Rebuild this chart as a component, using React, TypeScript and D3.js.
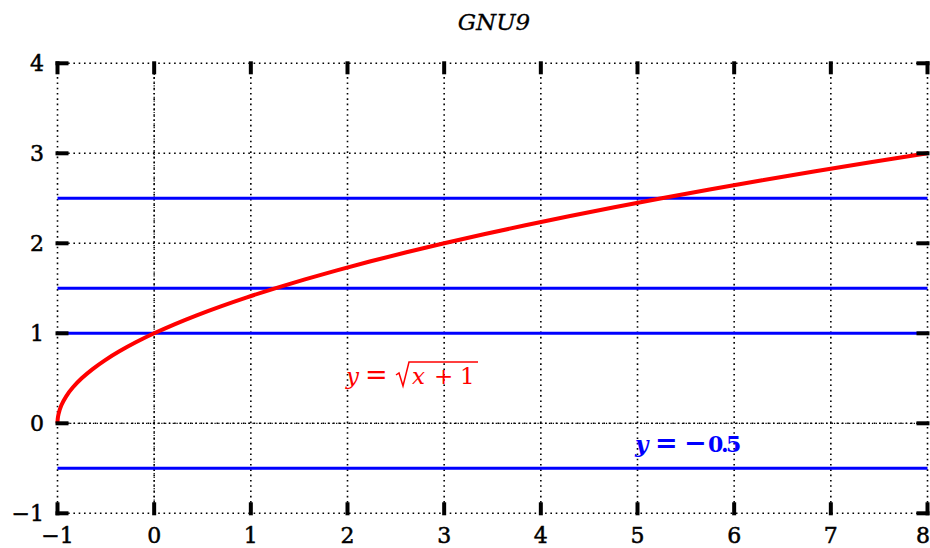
import React from "react";
import * as d3 from "d3";

// Curve samples of y = sqrt(x + 1)
const curveX = [-1, -0.9975, -0.99, -0.96, -0.91, -0.84, -0.75, -0.64, -0.51, -0.36, -0.19, 0, 0.21, 0.44, 0.69, 0.96, 1.25, 1.56, 1.89, 2.24, 2.61, 3, 3.41, 3.84, 4.29, 4.76, 5.25, 5.76, 6.29, 6.84, 7.41, 8];
const curveY = [0, 0.05, 0.1, 0.2, 0.3, 0.4, 0.5, 0.6, 0.7, 0.8, 0.9, 1, 1.1, 1.2, 1.3, 1.4, 1.5, 1.6, 1.7, 1.8, 1.9, 2, 2.1, 2.2, 2.3, 2.4, 2.5, 2.6, 2.7, 2.8, 2.9, 3];

// Horizontal reference levels
const levels = [2.5, 1.5, 1, -0.5];

const xTicks = [-1, 0, 1, 2, 3, 4, 5, 6, 7, 8];
const yTicks = [-1, 0, 1, 2, 3, 4];

const title = "GNU9";

const W = 930;
const H = 548;
const left = 57.5;
const right = 927.5;
const top = 63.3;
const bottom = 513.3;

const FONT = "'DejaVu Serif', 'Liberation Serif', serif";

const fmt = (t: number) => (t < 0 ? "\u2212" + Math.abs(t) : String(t));

export default function App() {
  const x = d3.scaleLinear().domain([-1, 8]).range([left, right]);
  const y = d3.scaleLinear().domain([-1, 4]).range([bottom, top]);

  const pts: [number, number][] = curveX.map((v, i) => [v, curveY[i]]);
  const line = d3
    .line<[number, number]>()
    .x((d) => x(d[0]))
    .y((d) => y(d[1]))
    .curve(d3.curveMonotoneY);

  const tickLen = 11;
  const tickW = 4;

  // label anchors
  const rx = 346;
  const ry = 384;
  const bx = 635;
  const by = 452;

  return (
    <svg
      width={W}
      height={H}
      style={{ position: "absolute", left: 0, top: 0, background: "#fff" }}
      fontFamily={FONT}
    >
      <rect width={W} height={H} fill="#fff" />
      <text x={494} y={30} textAnchor="middle" fontStyle="italic" fontSize={23} fill="#000" stroke="#000" strokeWidth={0.3}>
        {title}
      </text>

      {/* dotted grid */}
      <g stroke="#000" strokeWidth={1.6} strokeDasharray="1.6,3.7" fill="none">
        {xTicks.map((t) => (
          <line key={"gx" + t} x1={x(t)} x2={x(t)} y1={y(-1)} y2={y(4)} />
        ))}
        {yTicks.map((t) => (
          <line key={"gy" + t} x1={x(-1)} x2={x(8)} y1={y(t)} y2={y(t)} />
        ))}
      </g>
      {/* zero axes */}
      <g stroke="#000" strokeWidth={1.2} strokeDasharray="1.2,2.6" strokeDashoffset={2.6} fill="none">
        <line x1={x(0)} x2={x(0)} y1={y(-1)} y2={y(4)} />
        <line x1={x(-1)} x2={x(8)} y1={y(0)} y2={y(0)} />
      </g>

      {/* horizontal levels */}
      <g stroke="#0000ff" strokeWidth={3}>
        {levels.map((v) => (
          <line key={"l" + v} x1={x(-1)} x2={x(8)} y1={y(v)} y2={y(v)} />
        ))}
      </g>

      {/* curve */}
      <path d={line(pts) ?? ""} fill="none" stroke="#ff0000" strokeWidth={4} strokeLinejoin="round" />

      {/* tick marks on all four sides */}
      <g stroke="#000" strokeWidth={tickW}>
        {xTicks.map((t) => (
          <g key={"tx" + t}>
            <line x1={x(t)} x2={x(t)} y1={y(-1) + tickW / 2} y2={y(-1) - tickLen} />
            <line x1={x(t)} x2={x(t)} y1={y(4) - tickW / 2} y2={y(4) + tickLen} />
          </g>
        ))}
        {yTicks.map((t) => (
          <g key={"ty" + t}>
            <line x1={x(-1) - tickW / 2} x2={x(-1) + tickLen} y1={y(t)} y2={y(t)} />
            <line x1={x(8) + tickW / 2} x2={x(8) - tickLen} y1={y(t)} y2={y(t)} />
          </g>
        ))}
      </g>

      {/* tick labels */}
      <g fontSize={22} fill="#000" stroke="#000" strokeWidth={0.5}>
        {xTicks.map((t, i) => {
          const last = i === xTicks.length - 1;
          return (
            <text key={"lx" + t} x={last ? 930 : x(t)} y={543} textAnchor={last ? "end" : "middle"}>
              {fmt(t)}
            </text>
          );
        })}
        {yTicks.map((t) => (
          <text key={"ly" + t} x={44} y={y(t) + 8} textAnchor="end">
            {fmt(t)}
          </text>
        ))}
      </g>

      {/* curve label: y = sqrt(x + 1) */}
      <g fill="#ff0000" fontSize={23}>
        <text x={rx} y={ry} fontStyle="italic">y</text>
        <text x={rx + 19} y={ry} fontSize={27}>=</text>
        <text x={rx + 66} y={ry} fontStyle="italic">x</text>
        <text x={rx + 88} y={ry}>+</text>
        <text x={rx + 114} y={ry}>1</text>
        <path
          d={`M${rx + 50},${ry - 9} L${rx + 53},${ry - 11} L${rx + 57},${ry + 2} L${rx + 63},${ry - 22} L${rx + 132},${ry - 22}`}
          fill="none"
          stroke="#ff0000"
          strokeWidth={1.5}
          strokeLinejoin="miter"
        />
      </g>

      {/* level label */}
      <g fill="#0000ff" fontWeight="bold">
        <text x={bx} y={by} fontSize={23} fontStyle="italic">y</text>
        <text x={bx + 20} y={by} fontSize={27}>=</text>
        <text x={bx + 49} y={by} fontSize={27}>{"\u2212"}</text>
        <text x={`${bx + 73} ${bx + 86} ${bx + 91}`} y={by} fontSize={22}>0.5</text>
      </g>
    </svg>
  );
}
